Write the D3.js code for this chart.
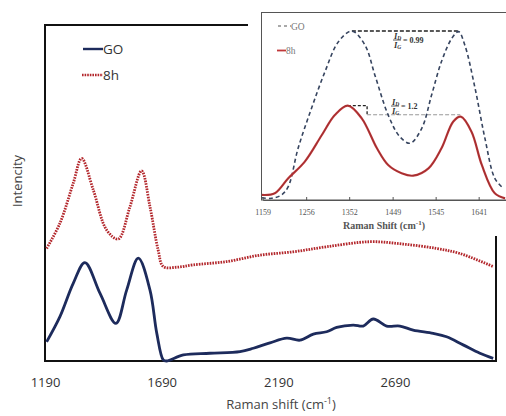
<!DOCTYPE html>
<html><head><meta charset="utf-8">
<script src="https://cdn.jsdelivr.net/npm/d3@7"></script>
<style>body{margin:0;background:#fff}svg{display:block}</style>
</head><body>
<svg id="c" width="506" height="416"></svg>
<script>
// ---- main chart data (Raman shift, arbitrary intensity) ----
const goShift = [1197,1254,1311,1361,1426,1494,1540,1590,1640,1669,1697,1711,1783,1897,2026,2083,2154,2226,2283,2340,2397,2440,2511,2554,2597,2654,2711,2768,2854,2911,2982,3054,3111];
const goInt   = [5.7,13.2,23.1,29.3,20.1,11.2,21.1,30.6,21.1,8.3,0.3,0,1.8,2.3,2.8,3.8,5.4,6.8,6.2,8.0,8.7,10.0,10.7,10.4,12.5,10.4,10.4,9.2,8.2,7.2,4.8,2.3,0.8];
const h8Shift = [1197,1254,1311,1347,1397,1454,1504,1554,1604,1640,1675,1697,1754,1825,1969,2111,2254,2397,2583,2725,2868,2968,3111];
const h8Int   = [33.5,41.0,52.9,60.3,50.9,39.0,36.3,45.9,56.6,45.9,33.0,28.1,27.9,28.6,29.6,31.5,32.5,34.0,35.5,34.8,33.5,32.0,28.1];
const mainTicks = [1190,1690,2190,2690];
const seriesNames = ["GO","8h"];

// ---- inset data ----
const inGoShift = [1157,1179,1201,1216,1238,1268,1298,1328,1358,1387,1410,1439,1465,1488,1514,1536,1558,1581,1596,1610,1633,1655,1677,1696];
const inGoInt   = [1.2,0.9,2.7,7.1,27.6,49.0,68.5,84.5,90.2,82.8,66.2,45.4,33.8,30.3,38.3,56.1,73.9,86.3,89.9,82.8,59.6,32.9,11.6,6.2];
const in8Shift  = [1157,1186,1216,1253,1291,1320,1349,1380,1414,1439,1469,1495,1529,1558,1584,1601,1625,1648,1677,1700];
const in8Int    = [2.7,3.6,11.6,20.5,34.7,45.4,50.4,43.6,27.6,18.7,14.3,13.0,16.9,27.6,41.8,44.5,36.5,18.7,3.6,0.9];
const insetTicks = [1159,1256,1352,1449,1545,1641];

const svg = d3.select("#c");
const sans = "'Open Sans', 'Noto Sans', sans-serif";
const serif = "'Liberation Serif', 'DejaVu Serif', serif";

const x = d3.scaleLinear([1190, 3123], [45, 496]);
const y = d3.scaleLinear([0, 100], [361, 25]);
const line = d3.line().x(d => x(d[0])).y(d => y(d[1])).curve(d3.curveCatmullRom.alpha(0.5));

// frame
svg.append("rect").attr("x",45).attr("y",25).attr("width",451).attr("height",336)
  .attr("fill","none").attr("stroke","#111").attr("stroke-width",2);

// series
svg.append("path").datum(h8Shift.map((s,i)=>[s,h8Int[i]])).attr("d",line)
  .attr("fill","none").attr("stroke","#b3272c").attr("stroke-width",2.8).attr("stroke-dasharray","1.6,1.1");
svg.append("path").datum(goShift.map((s,i)=>[s,goInt[i]])).attr("d",line)
  .attr("fill","none").attr("stroke","#1d2b5c").attr("stroke-width",2.8);

// axis
const ax = svg.append("g").attr("transform","translate(0,361)")
  .call(d3.axisBottom(x).tickValues(mainTicks).tickSize(0).tickPadding(17).tickFormat(d3.format("d")));
ax.select(".domain").remove();
ax.selectAll("text").attr("font-family",sans).attr("font-size",13).attr("fill","#333");

// axis titles
const xt = svg.append("text").attr("x",281).attr("y",409).attr("text-anchor","middle")
  .attr("font-family",sans).attr("font-size",13).attr("fill","#444");
xt.append("tspan").text("Raman shift (cm");
xt.append("tspan").attr("font-size",9).attr("dy",-5).text("-1");
xt.append("tspan").attr("dy",5).text(")");
svg.append("text").attr("transform","translate(22,181) rotate(-90)").attr("text-anchor","middle")
  .attr("font-family",sans).attr("font-size",13).attr("fill","#444").text("Intencity");

// legend
const lg = svg.append("g");
lg.append("line").attr("x1",83).attr("x2",103).attr("y1",49).attr("y2",49).attr("stroke","#1d2b5c").attr("stroke-width",2.4);
lg.append("text").attr("x",103).attr("y",54).attr("font-family",sans).attr("font-size",13.5).attr("fill","#333").text(seriesNames[0]);
lg.append("line").attr("x1",82).attr("x2",103).attr("y1",75).attr("y2",75).attr("stroke","#b3272c").attr("stroke-width",2.4).attr("stroke-dasharray","1.6,1");
lg.append("text").attr("x",103).attr("y",80).attr("font-family",sans).attr("font-size",13.5).attr("fill","#333").text(seriesNames[1]);

// ---- inset ----
svg.append("rect").attr("x",248).attr("y",0).attr("width",258).attr("height",236).attr("fill","#fff");
const xi = d3.scaleLinear([1159, 1702], [262.7, 506]);
const yi = d3.scaleLinear([0, 100], [200, 12.7]);
const li = d3.line().x(d => xi(d[0])).y(d => yi(d[1])).curve(d3.curveCatmullRom.alpha(0.5));
svg.append("rect").attr("x",261.5).attr("y",12.5).attr("width",250).attr("height",187.5)
  .attr("fill","#fff").attr("stroke","#555").attr("stroke-width",1);

// annotation guides
svg.append("path").attr("d",`M${xi(1358)},${yi(90.2)}H${xi(1596)}`).attr("stroke","#222").attr("stroke-width",1.4).attr("stroke-dasharray","4,2").attr("fill","none");
svg.append("path").attr("d",`M${xi(1349)},${yi(50.4)}H${xi(1392)}V${yi(45.5)}`).attr("stroke","#222").attr("stroke-width",1.3).attr("stroke-dasharray","3,2").attr("fill","none");
svg.append("path").attr("d",`M${xi(1392)},${yi(45.5)}H${xi(1600)}`).attr("stroke","#999").attr("stroke-width",1.1).attr("stroke-dasharray","4,2").attr("fill","none");

svg.append("path").datum(inGoShift.map((s,i)=>[s,inGoInt[i]])).attr("d",li)
  .attr("fill","none").attr("stroke","#36445f").attr("stroke-width",1.6).attr("stroke-dasharray","4,3");
svg.append("path").datum(in8Shift.map((s,i)=>[s,in8Int[i]])).attr("d",li)
  .attr("fill","none").attr("stroke","#c0383a").attr("stroke-width",2.2);
svg.append("path").datum(in8Shift.map((s,i)=>[s,in8Int[i]])).attr("d",li)
  .attr("fill","none").attr("stroke","#5a2020").attr("stroke-width",0.6).attr("opacity",0.6);

const ia = svg.append("g").attr("transform","translate(0,200)")
  .call(d3.axisBottom(xi).tickValues(insetTicks).tickSizeInner(-3).tickSizeOuter(0).tickPadding(9).tickFormat(d3.format("d")));
ia.select(".domain").attr("stroke","#555");
ia.selectAll("line").attr("stroke","#555");
ia.selectAll("text").attr("font-family",serif).attr("font-size",8).attr("fill","#555");

const it = svg.append("text").attr("x",384).attr("y",229).attr("text-anchor","middle")
  .attr("font-family",serif).attr("font-size",10).attr("font-weight","bold").attr("fill","#555");
it.append("tspan").text("Raman Shift (cm");
it.append("tspan").attr("font-size",7).attr("dy",-4).text("-1");
it.append("tspan").attr("dy",4).text(")");

// inset legend
svg.append("line").attr("x1",278).attr("x2",291).attr("y1",26).attr("y2",26).attr("stroke","#555").attr("stroke-width",1.2).attr("stroke-dasharray","3,3");
svg.append("text").attr("x",291).attr("y",29.5).attr("font-family",serif).attr("font-size",9.5).attr("fill","#777").text(seriesNames[0]);
svg.append("line").attr("x1",277).attr("x2",286).attr("y1",50.5).attr("y2",50.5).attr("stroke","#c0383a").attr("stroke-width",1.8);
svg.append("text").attr("x",286).attr("y",54).attr("font-family",serif).attr("font-size",9.5).attr("fill","#777").text(seriesNames[1]);

// ratio labels
function ratio(cx, cy, val){
  const g = svg.append("g").attr("font-family",serif).attr("font-weight","bold").attr("fill","#333");
  const n = g.append("text").attr("x",cx-3).attr("y",cy-1.5).attr("font-size",8.5).attr("font-style","italic");
  n.append("tspan").text("I");
  n.append("tspan").attr("font-size",5.5).attr("dy",1.5).text("D");
  g.append("line").attr("x1",cx-4).attr("x2",cx+4).attr("y1",cy).attr("y2",cy).attr("stroke","#333").attr("stroke-width",0.8);
  const d = g.append("text").attr("x",cx-3).attr("y",cy+7.5).attr("font-size",8.5).attr("font-style","italic");
  d.append("tspan").text("I");
  d.append("tspan").attr("font-size",5.5).attr("dy",1.5).text("G");
  g.append("text").attr("x",cx+6).attr("y",cy+3).attr("font-size",8).text("= " + val);
}
ratio(397, 40, "0.99");
ratio(395, 106, "1.2");
</script>
</body></html>
